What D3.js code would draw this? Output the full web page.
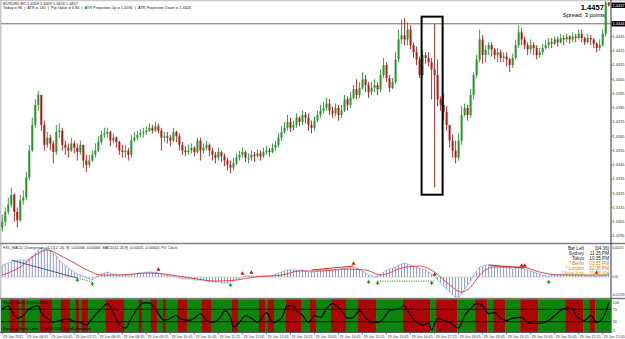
<!DOCTYPE html>
<html><head><meta charset="utf-8">
<script src="https://cdn.jsdelivr.net/npm/d3@7"></script>
<style>html,body{margin:0;padding:0;background:#fff;overflow:hidden}svg{display:block;font-family:"Liberation Sans",Arial,sans-serif}</style>
</head><body><svg id="c" width="625" height="339"></svg>
<script>
// ---------------- DATA ----------------
const headerLine1 = "EURUSD,M5  1.4459 1.4459 1.4456 1.4457";
const headerLine2 = "Today = 96  |  ATR = 135  |  Pip Value = 6.90  |  ATR Projection Up = 1.4591  |  ATR Projection Down = 1.4426";
const firstOpen = 1.4301;
const closes = [1.4305,1.4312,1.4317,1.4324,1.4312,1.4306,1.4320,1.4322,1.4336,1.4355,
1.4373,1.4387,1.4394,1.4373,1.4359,1.4364,1.4360,1.4354,1.4368,1.4369,
1.4359,1.4357,1.4355,1.4360,1.4357,1.4354,1.4359,1.4348,1.4345,1.4348,
1.4352,1.4355,1.4361,1.4366,1.4367,1.4368,1.4362,1.4364,1.4361,1.4355,
1.4354,1.4355,1.4352,1.4362,1.4364,1.4366,1.4367,1.4368,1.4369,1.4371,
1.4369,1.4372,1.4369,1.4364,1.4365,1.4364,1.4362,1.4368,1.4365,1.4359,
1.4355,1.4354,1.4355,1.4357,1.4354,1.4362,1.4355,1.4357,1.4359,1.4355,
1.4352,1.4350,1.4354,1.4351,1.4348,1.4345,1.4343,1.4346,1.4350,1.4352,
1.4354,1.4350,1.4350,1.4352,1.4351,1.4353,1.4351,1.4354,1.4355,1.4354,
1.4357,1.4359,1.4364,1.4368,1.4371,1.4375,1.4371,1.4373,1.4378,1.4375,
1.4380,1.4378,1.4373,1.4371,1.4376,1.4380,1.4383,1.4385,1.4388,1.4383,
1.4381,1.4385,1.4380,1.4383,1.4391,1.4387,1.4392,1.4398,1.4394,1.4399,
1.4405,1.4401,1.4396,1.4399,1.4401,1.4398,1.4408,1.4415,1.4406,1.4399,
1.4403,1.4419,1.4433,1.4436,1.4433,1.4440,1.4429,1.4424,1.4419,1.4408,
1.4422,1.4420,1.4417,1.4412,1.4408,1.4391,1.4387,1.4382,1.4373,1.4362,
1.4355,1.4350,1.4362,1.4380,1.4385,1.4380,1.4394,1.4408,1.4419,1.4433,
1.4422,1.4426,1.4429,1.4426,1.4422,1.4424,1.4420,1.4421,1.4419,1.4415,
1.4420,1.4429,1.4438,1.4433,1.4429,1.4426,1.4429,1.4427,1.4422,1.4424,
1.4427,1.4429,1.4431,1.4430,1.4433,1.4431,1.4434,1.4433,1.4435,1.4433,
1.4435,1.4434,1.4437,1.4434,1.4431,1.4434,1.4433,1.4430,1.4427,1.4429,
1.4437,1.4459,1.4457];
const highs = [1.4310,1.4315,1.4322,1.4329,1.4325,1.4315,1.4324,1.4327,1.4340,1.4359,
1.4378,1.4391,1.4397,1.4394,1.4376,1.4368,1.4366,1.4362,1.4373,1.4374,
1.4371,1.4362,1.4360,1.4364,1.4362,1.4360,1.4362,1.4359,1.4352,1.4352,
1.4355,1.4360,1.4365,1.4369,1.4371,1.4371,1.4369,1.4367,1.4365,1.4362,
1.4359,1.4359,1.4357,1.4366,1.4368,1.4369,1.4370,1.4371,1.4372,1.4374,
1.4373,1.4375,1.4374,1.4371,1.4368,1.4368,1.4366,1.4371,1.4369,1.4367,
1.4361,1.4358,1.4359,1.4360,1.4358,1.4364,1.4364,1.4360,1.4362,1.4360,
1.4357,1.4354,1.4357,1.4355,1.4353,1.4350,1.4348,1.4350,1.4353,1.4355,
1.4357,1.4355,1.4353,1.4355,1.4354,1.4356,1.4355,1.4357,1.4358,1.4357,
1.4360,1.4362,1.4367,1.4372,1.4375,1.4380,1.4378,1.4376,1.4381,1.4379,
1.4383,1.4382,1.4381,1.4376,1.4379,1.4383,1.4387,1.4389,1.4392,1.4391,
1.4386,1.4388,1.4387,1.4387,1.4394,1.4393,1.4396,1.4401,1.4405,1.4403,
1.4410,1.4408,1.4403,1.4403,1.4405,1.4403,1.4412,1.4420,1.4417,1.4408,
1.4406,1.4424,1.4440,1.4447,1.4448,1.4445,1.4443,1.4431,1.4428,1.4421,
1.4426,1.4424,1.4424,1.4420,1.4444,1.4419,1.4393,1.4395,1.4386,1.4373,
1.4366,1.4362,1.4367,1.4386,1.4388,1.4387,1.4398,1.4410,1.4422,1.4440,
1.4436,1.4429,1.4431,1.4431,1.4427,1.4427,1.4426,1.4424,1.4424,1.4420,
1.4423,1.4433,1.4443,1.4441,1.4435,1.4431,1.4433,1.4431,1.4429,1.4427,
1.4430,1.4433,1.4434,1.4434,1.4435,1.4435,1.4437,1.4436,1.4437,1.4436,
1.4438,1.4437,1.4440,1.4440,1.4435,1.4437,1.4436,1.4434,1.4431,1.4433,
1.4440,1.4460,1.4459];
const lows = [1.4298,1.4302,1.4310,1.4315,1.4305,1.4301,1.4305,1.4317,1.4320,1.4334,
1.4354,1.4371,1.4383,1.4369,1.4355,1.4357,1.4355,1.4346,1.4352,1.4364,
1.4355,1.4352,1.4350,1.4354,1.4353,1.4348,1.4352,1.4343,1.4340,1.4343,
1.4347,1.4350,1.4354,1.4359,1.4364,1.4364,1.4358,1.4360,1.4357,1.4352,
1.4350,1.4350,1.4348,1.4350,1.4361,1.4362,1.4364,1.4364,1.4366,1.4368,
1.4367,1.4368,1.4367,1.4355,1.4361,1.4360,1.4358,1.4361,1.4361,1.4355,
1.4352,1.4351,1.4352,1.4353,1.4351,1.4353,1.4348,1.4353,1.4355,1.4351,
1.4348,1.4346,1.4348,1.4347,1.4344,1.4341,1.4339,1.4341,1.4345,1.4348,
1.4350,1.4347,1.4346,1.4348,1.4347,1.4350,1.4348,1.4350,1.4352,1.4351,
1.4353,1.4355,1.4357,1.4362,1.4367,1.4369,1.4368,1.4369,1.4371,1.4372,
1.4373,1.4374,1.4369,1.4367,1.4369,1.4375,1.4378,1.4381,1.4383,1.4380,
1.4378,1.4379,1.4376,1.4378,1.4382,1.4383,1.4385,1.4391,1.4391,1.4392,
1.4398,1.4396,1.4392,1.4394,1.4396,1.4394,1.4396,1.4406,1.4403,1.4396,
1.4398,1.4402,1.4417,1.4430,1.4429,1.4429,1.4426,1.4420,1.4415,1.4406,
1.4407,1.4416,1.4414,1.4391,1.4329,1.4386,1.4383,1.4376,1.4369,1.4357,
1.4350,1.4346,1.4348,1.4359,1.4379,1.4376,1.4378,1.4391,1.4406,1.4417,
1.4416,1.4417,1.4422,1.4421,1.4419,1.4417,1.4417,1.4417,1.4414,1.4410,
1.4413,1.4419,1.4427,1.4429,1.4426,1.4422,1.4423,1.4422,1.4419,1.4420,
1.4422,1.4426,1.4427,1.4427,1.4429,1.4428,1.4430,1.4429,1.4431,1.4430,
1.4431,1.4431,1.4433,1.4431,1.4429,1.4430,1.4429,1.4427,1.4424,1.4425,
1.4428,1.4435,1.4456];
const priceTicks = [1.4295,1.4305,1.4315,1.4325,1.4335,1.4345,1.4355,1.4365,1.4375,1.4385,1.4395,1.4405,1.4415,1.4425,1.4435];
const bidPrice = 1.4457;
const levelPrice = 1.4444;
const spreadText = "Spread: 3 points";
const boxBars = [140, 146];
const boxPrices = [1.4449, 1.4324];
const timeTickBars = [0,8,16,24,32,40,48,56,64,72,80,88,96,104,112,120,128,136,144,152,160,168,176,184,192,200];
const timeTickLabels = ["29 Jun 2011","29 Jun 06:05","29 Jun 06:45","29 Jun 07:25","29 Jun 08:05","29 Jun 08:45","29 Jun 09:25","29 Jun 10:05","29 Jun 10:45","29 Jun 11:25","29 Jun 12:05","29 Jun 12:45","29 Jun 13:25","29 Jun 14:05","29 Jun 14:45","29 Jun 15:25","29 Jun 16:05","29 Jun 16:45","29 Jun 17:25","29 Jun 18:05","29 Jun 18:45","29 Jun 19:25","29 Jun 20:05","29 Jun 20:45","29 Jun 21:25","29 Jun 22:05"];

// MACD panel (values in 1e-5 units)
const macdLabel = "FX5_MACD_Divergence_v1.1(12, 26, 9) -0.00006 -0.00006  MACD(12,26,9) -0.00001 -0.00004  P4: Clock";
const macdHist = [80,87,93,100,107,113,113,113,113,120,
140,160,180,193,193,187,180,160,140,113,
93,80,60,47,33,20,13,7,-7,-13,
-20,-7,7,20,27,33,27,20,20,13,
13,13,7,13,20,27,27,27,33,33,
33,33,27,20,13,13,7,7,0,-7,
-13,-13,-13,-13,-20,-20,-20,-20,-27,-33,
-33,-33,-33,-40,-40,-40,-33,-27,-13,-7,
0,7,7,7,0,7,7,7,7,7,
13,20,27,33,40,47,47,47,47,47,
47,40,33,33,33,40,47,47,53,47,
47,47,47,53,60,60,67,67,60,53,
40,27,13,7,0,7,20,33,47,53,
60,67,80,87,93,87,80,73,67,60,
53,47,33,20,7,-20,-40,-60,-80,-100,
-120,-133,-133,-113,-80,-53,-27,13,40,67,
73,80,80,80,73,73,67,67,60,60,
53,60,60,60,53,47,40,33,27,20,
13,7,7,13,13,13,20,20,20,13,
20,20,13,13,13,7,7,7,7,7,
7,13,27];
const signalBars = [0,6,11,15,19,24,29,33,38,49,54,63,71,78,84,93,99,106,114,121,126,133,139,144,149,153,156,159,164,173,179,186,196,202];
const signalVals = [13,67,147,180,147,93,40,13,13,27,20,-7,-27,-20,0,13,40,40,53,47,13,60,73,33,-53,-100,-67,13,67,67,33,13,13,13];
const divFrom = [3,25,125,103,162];
const divTo = [25,30,144,117,174];
const divFromVal = [113,-7,-27,47,80];
const divToVal = [-7,-33,-27,73,60];
const divColor = ["#34507a","#1f8f1f","#1f8f1f","#c01818","#c01818"];
const divDashed = [false,true,true,false,false];
const redMarkBars = [52,80,83,117,144,173,174,198];
const redMarkVals = [33,7,13,73,0,60,60,13];
const greenMarkBars = [25,30,76,122,125,143,182];
const greenMarkVals = [-7,-33,-40,-20,-27,-27,-20];
const clockNames = ["Bar Left","Sydney","Tokyo","* Berlin","* London","* New York"];
const clockTimes = ["[04:36]","11:35 PM","10:35 PM","03:35 PM","02:35 PM","09:35 AM"];
const clockColors = ["#202020","#202020","#202020","#d07a10","#d07a10","#c9b000"];

// Bottom panel
const bandStarts = [0,3,6,7,8,13,17,20,23,25,26,27,29,35,41,46,47,50,52,54,55,59,62,67,70,77,79,86,88,89,91,95,100,103,105,110,115,119,125,134,143,145,152,158,162,164,168,173,179,188,194,196,198];
const bandColors = ["G","R","G","R","G","R","G","R","G","R","G","R","G","R","G","R","G","R","G","R","G","R","G","R","G","R","G","R","G","R","G","R","G","R","G","R","G","R","G","R","G","R","G","R","G","R","G","R","G","R","G","R","G"];
const stochBars = [0,2,4,5,7,9,12,13,15,17,19,22,24,26,28,30,33,35,37,39,41,43,45,47,49,51,53,54,56,58,59,62,64,66,68,70,73,74,76,77,79,81,83,85,87,88,90,93,95,97,98,100,102,104,106,108,110,113,115,117,119,121,123,125,127,129,132,134,136,138,140,142,143,145,147,149,152,154,156,158,160,162,164,166,168,170,173,175,177,179,182,184,186,188,190,191,194,196,198,200,202];
const stochVals = [72,81,50,41,50,72,81,59,41,28,34,38,31,28,19,41,72,88,59,19,9,41,72,91,91,72,41,34,41,50,41,34,41,56,34,28,50,66,44,13,28,50,41,28,50,59,28,41,81,81,66,50,28,50,44,72,88,66,41,44,66,44,28,28,41,66,72,81,50,28,19,25,3,41,34,28,9,50,72,88,81,56,59,41,34,41,44,28,25,25,34,50,66,75,72,50,34,50,28,41,91];
const stochLevels = [70,30];
const stochTopText = "StochColor(5,3,3) 91.4286";
const stochBottomText = "Non Lag Stoch Color, \u00A9 2008-2011 TrendLaboratory";

// ---------------- DRAW ----------------
const N = closes.length;
const svg = d3.select("#c");
const RED = "#b01818", GREEN = "#23962a";

const x = d3.scaleBand().domain(d3.range(N)).range([1, 610]).paddingInner(0.34).paddingOuter(0.1);
const bw = x.bandwidth();
const cx = i => x(i) + bw / 2;
const yP = d3.scaleLinear().domain([1.4295, 1.4435]).range([236, 36.6]);
const yM = d3.scaleLinear().domain([-133, 200]).range([297, 247]);
const yS = d3.scaleLinear().domain([0, 100]).range([331, 300]);
const AX = 612.6, AXF = 3.9;

const defs = svg.append("defs");
defs.append("clipPath").attr("id","mainClip").append("rect").attr("x",1).attr("y",1).attr("width",610).attr("height",242);
defs.append("clipPath").attr("id","macdClip").append("rect").attr("x",1).attr("y",244).attr("width",610).attr("height",54);

// frame
svg.append("rect").attr("x",0).attr("y",0).attr("width",625).attr("height",339).attr("fill","#fff");
svg.append("rect").attr("x",0).attr("y",0).attr("width",625).attr("height",1.2).attr("fill","#c8c8c8");
svg.append("rect").attr("x",0).attr("y",0).attr("width",1.5).attr("height",333).attr("fill","#c8c8c8");

// header
svg.append("text").attr("x",3).attr("y",4.6).attr("font-size",3.9).attr("fill","#222").text(headerLine1);
svg.append("text").attr("x",3).attr("y",8.8).attr("font-size",3.9).attr("fill","#222").attr("xml:space","preserve").text(headerLine2);

// level line
svg.append("line").attr("x1",1).attr("x2",611).attr("y1",yP(levelPrice)).attr("y2",yP(levelPrice)).attr("stroke","#6a6a6a").attr("stroke-width",1);

// candles
const mainG = svg.append("g").attr("clip-path","url(#mainClip)");
const cd = d3.range(N).map(i => ({i, o: i ? closes[i-1] : firstOpen, c: closes[i], h: highs[i], l: lows[i]}));
mainG.selectAll("line.wick").data(cd).join("line")
  .attr("x1", d => cx(d.i)).attr("x2", d => cx(d.i))
  .attr("y1", d => yP(Math.max(d.h, d.o, d.c))).attr("y2", d => yP(Math.min(d.l, d.o, d.c)))
  .attr("stroke", d => d.c >= d.o ? GREEN : RED).attr("stroke-width", 0.9);
mainG.selectAll("rect.body").data(cd).join("rect")
  .attr("x", d => x(d.i)).attr("width", bw)
  .attr("y", d => yP(Math.max(d.o, d.c)))
  .attr("height", d => Math.max(0.9, Math.abs(yP(d.o) - yP(d.c))))
  .attr("fill", d => d.c >= d.o ? GREEN : RED);

// highlight box
svg.append("rect").attr("x", x(boxBars[0])).attr("y", yP(boxPrices[0]))
  .attr("width", x(boxBars[1]) + x.step() - x(boxBars[0])).attr("height", yP(boxPrices[1]) - yP(boxPrices[0]))
  .attr("fill","none").attr("stroke","#000").attr("stroke-width",2);

// price text top right
svg.append("text").attr("x",604).attr("y",9.6).attr("text-anchor","end").attr("font-size",7.6).attr("font-weight","bold").attr("fill","#000").text(bidPrice.toFixed(4));
svg.append("text").attr("x",605).attr("y",16.8).attr("text-anchor","end").attr("font-size",5.8).attr("fill","#000").text(spreadText);

// panel separators
svg.append("line").attr("x1",0).attr("x2",625).attr("y1",243.5).attr("y2",243.5).attr("stroke","#808080").attr("stroke-width",1.3);
svg.append("line").attr("x1",0).attr("x2",625).attr("y1",298.5).attr("y2",298.5).attr("stroke","#808080").attr("stroke-width",1.3);

// price axis
svg.append("line").attr("x1",611).attr("x2",611).attr("y1",0).attr("y2",333).attr("stroke","#333").attr("stroke-width",1);
const pa = svg.append("g");
priceTicks.forEach(t => {
  pa.append("line").attr("x1",611).attr("x2",612.5).attr("y1",yP(t)).attr("y2",yP(t)).attr("stroke","#333").attr("stroke-width",0.6);
  pa.append("text").attr("x",AX).attr("y",yP(t)+1.4).attr("font-size",AXF).attr("fill","#333").text(t.toFixed(4));
});
[bidPrice, levelPrice].forEach(p => {
  pa.append("rect").attr("x",611.5).attr("y",yP(p)-2.7).attr("width",13.5).attr("height",5.4).attr("fill","#000");
  pa.append("text").attr("x",AX).attr("y",yP(p)+1.4).attr("font-size",AXF).attr("fill","#fff").text(p.toFixed(4));
});

// ---- MACD panel ----
const mg = svg.append("g").attr("clip-path","url(#macdClip)");
mg.selectAll("line.h").data(macdHist).join("line")
  .attr("x1",(d,i)=>cx(i)).attr("x2",(d,i)=>cx(i)).attr("y1",yM(0)).attr("y2",d=>yM(d))
  .attr("stroke","#8f98d0").attr("stroke-width",1);
mg.append("path").datum(macdHist).attr("fill","none").attr("stroke","#8ea6e0").attr("stroke-width",0.7)
  .attr("d", d3.line().x((d,i)=>cx(i)).y(d=>yM(d)));
mg.append("line").attr("x1",1).attr("x2",611).attr("y1",yM(0)).attr("y2",yM(0)).attr("stroke","#b0b0b0").attr("stroke-width",0.5);
mg.append("path").datum(signalBars.map((b,k)=>[b,signalVals[k]])).attr("fill","none").attr("stroke","#e03a3a").attr("stroke-width",0.9)
  .attr("d", d3.line().curve(d3.curveMonotoneX).x(d=>cx(d[0])).y(d=>yM(d[1])));
divFrom.forEach((f,k)=>{
  mg.append("line").attr("x1",cx(f)).attr("x2",cx(divTo[k])).attr("y1",yM(divFromVal[k])).attr("y2",yM(divToVal[k]))
    .attr("stroke",divColor[k]).attr("stroke-width",0.9).attr("stroke-dasharray",divDashed[k]?"1.2,1.2":null);
});
redMarkBars.forEach((b,k)=>{
  mg.append("path").attr("transform",`translate(${cx(b)},${yM(redMarkVals[k])-2.5})`)
    .attr("d",d3.symbol(d3.symbolTriangle,7)()).attr("fill","#d01010");
});
greenMarkBars.forEach((b,k)=>{
  mg.append("path").attr("transform",`translate(${cx(b)},${yM(greenMarkVals[k])+2})`)
    .attr("d",d3.symbol(d3.symbolCross,7)()).attr("fill","#1a8a1a");
});
svg.append("text").attr("x",3).attr("y",249.3).attr("font-size",3.7).attr("fill","#222").attr("xml:space","preserve").text(macdLabel);
clockNames.forEach((n,k)=>{
  svg.append("text").attr("x",584).attr("y",249.5+k*5).attr("text-anchor","end").attr("font-size",4.6).attr("fill",clockColors[k]).text(n);
  svg.append("text").attr("x",609).attr("y",249.5+k*5).attr("text-anchor","end").attr("font-size",4.6).attr("fill",clockColors[k]).text(clockTimes[k]);
});
[[200,"0.00200",248.6],[0,"0.00",278.4],[-133,"-0.00133",295.6]].forEach(([v,t,yy])=>{
  svg.append("text").attr("x",611.9).attr("y",yy).attr("font-size",3.2).attr("fill","#333").text(t);
});

// ---- Bottom panel ----
const bg = svg.append("g");
bandStarts.forEach((s,k)=>{
  const e = k+1 < bandStarts.length ? bandStarts[k+1] : N;
  const x0 = k===0 ? 1 : x(s) - x.step()*x.paddingInner()/2;
  const x1 = e>=N ? 611 : x(e) - x.step()*x.paddingInner()/2;
  bg.append("rect").attr("x",x0).attr("y",299.2).attr("width",x1-x0+0.3).attr("height",32.8)
    .attr("fill", bandColors[k]==="G" ? "#0b850b" : "#ad0606");
});
stochLevels.forEach(l=>{
  bg.append("line").attr("x1",1).attr("x2",611).attr("y1",yS(l)).attr("y2",yS(l)).attr("stroke","#000").attr("stroke-width",0.8);
});
bg.append("path").datum(stochBars.map((b,k)=>[b,stochVals[k]])).attr("fill","none").attr("stroke","#000").attr("stroke-width",1.2)
  .attr("d", d3.line().curve(d3.curveMonotoneX).x(d=>cx(d[0])).y(d=>yS(d[1])));
bg.append("text").attr("x",3).attr("y",304).attr("font-size",3.8).attr("fill","#000").text(stochTopText);
bg.append("text").attr("x",3).attr("y",330.2).attr("font-size",3.8).attr("fill","#000").text(stochBottomText);
[[70,"70",0],[30,"30",0],[0,"0",-0.6]].forEach(([v,t,dy])=>{
  svg.append("text").attr("x",AX).attr("y",yS(v)+1.4+dy).attr("font-size",AXF).attr("fill","#333").text(t);
});
svg.append("text").attr("x",AX).attr("y",303.6).attr("font-size",AXF).attr("fill","#333").text("100");

// ---- time axis ----
svg.append("line").attr("x1",0).attr("x2",611).attr("y1",332.5).attr("y2",332.5).attr("stroke","#333").attr("stroke-width",0.8);
timeTickBars.forEach((b,k)=>{
  svg.append("line").attr("x1",cx(b)).attr("x2",cx(b)).attr("y1",332.5).attr("y2",334.5).attr("stroke","#333").attr("stroke-width",0.6);
  svg.append("text").attr("x",cx(b)+0.8).attr("y",338.2).attr("font-size",3.7).attr("fill","#333").text(timeTickLabels[k]);
});
</script></body></html>
